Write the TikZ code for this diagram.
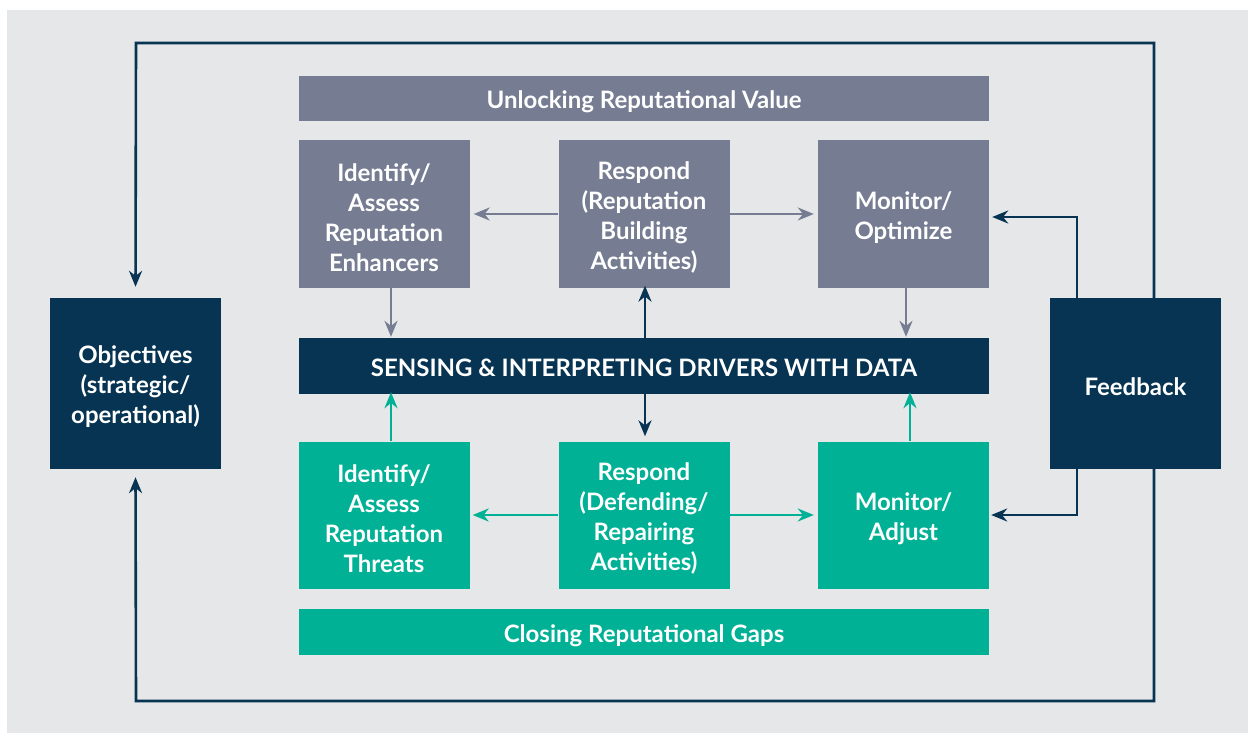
\documentclass[tikz,border=0pt]{standalone}
\usepackage{fontspec}
\setmainfont{Lato}
\usetikzlibrary{arrows.meta}

\definecolor{bgcol}{HTML}{E6E7E9}
\definecolor{slate}{HTML}{767D92}
\definecolor{navy}{HTML}{063452}
\definecolor{teal}{HTML}{00B195}

\tikzset{
    box/.style={minimum width=171pt, minimum height=147pt, inner sep=0pt, text width=171pt, align=center,
        text=white, font=\bfseries\fontsize{24}{30}\selectfont,
        execute at begin node={\rule{0pt}{25pt}}},
    bar/.style={minimum width=690pt, inner sep=0pt, text=white, text height=21pt, text depth=0pt,
        font=\bfseries\fontsize{24}{28}\selectfont},
    side/.style={box, fill=navy, minimum height=171pt},
    arr/.style={line width=2.6pt, -{Stealth[length=16pt,width=13pt]}},
}

\begin{document}
\begin{tikzpicture}[x=1pt, y=-1pt]
    \useasboundingbox (0,0) rectangle (1248,733);
    \fill[bgcol] (7,10) rectangle (1248,733);

    % Bars
    \node[bar, fill=slate, minimum height=45pt] (unlock) at (644,98.5) {Unlocking Reputational Value};
    \node[bar, fill=navy, minimum height=56pt] (sense) at (644,366) {SENSING \& INTERPRETING DRIVERS WITH DATA};
    \node[bar, fill=teal, minimum height=46pt] (close) at (644,632) {Closing Reputational Gaps};

    % Upper row
    \node[box, fill=slate] (enh) at (384,214) {Identify/\\Assess\\Reputation\\Enhancers};
    \node[box, fill=slate] (resB) at (644,214) {Respond\\(Reputation\\Building\\Activities)};
    \node[box, fill=slate] (monO) at (903.5,214) {Monitor/\\Optimize};

    % Lower row
    \node[box, fill=teal] (thr) at (384,515) {Identify/\\Assess\\Reputation\\Threats};
    \node[box, fill=teal] (resD) at (644,515) {Respond\\(Defending/\\Repairing\\Activities)};
    \node[box, fill=teal] (monA) at (903.5,515) {Monitor/\\Adjust};

    % Objectives and feedback
    \node[side] (obj) at (135.5,383.5) {Objectives\\(strategic/\\operational)};
    \node[side] (fb) at (1135.5,383.5) {Feedback};

    % Upper arrows
    \draw[arr, slate, shorten >=4pt] (resB.west) -- (enh.east);
    \draw[arr, slate, shorten >=4pt] (resB.east) -- (monO.west);
    \draw[arr, slate, shorten >=1pt] ([xshift=7pt]enh.south) -- ([xshift=7pt]enh.south |- sense.north);
    \draw[arr, slate, shorten >=1pt] ([xshift=2.5pt]monO.south) -- ([xshift=2.5pt]monO.south |- sense.north);

    % Sensing arrows
    \draw[arr, navy, shorten >=-2pt] ([xshift=1pt]sense.north) -- ([xshift=1pt]resB.south);
    \draw[arr, navy, shorten >=5pt] ([xshift=1pt]sense.south) -- ([xshift=1pt]resD.north);

    % Lower arrows
    \draw[arr, teal, shorten >=3pt] (resD.west) -- (thr.east);
    \draw[arr, teal, shorten >=4pt] (resD.east) -- (monA.west);
    \draw[arr, teal, shorten >=-2pt] ([xshift=7pt]thr.north) -- ([xshift=7pt]thr.north |- sense.south);
    \draw[arr, teal, shorten >=-2pt] ([xshift=6.5pt]monA.north) -- ([xshift=6.5pt]monA.north |- sense.south);

    % Feedback arrows
    \draw[arr, navy, shorten >=3pt] ([xshift=-58.5pt]fb.north) |- ([yshift=-3pt]monO.east);
    \draw[arr, navy, shorten >=2pt] ([xshift=-58.5pt]fb.south) |- (monA.east);

    % Outer loop
    \coordinate (loopT) at (136,43);
    \coordinate (loopB) at (136,701);
    \draw[arr, navy, shorten >=11pt] ([xshift=18.5pt]fb.north) |- (loopT) -- (obj.north);
    \draw[arr, navy, shorten >=8pt] ([xshift=18.5pt]fb.south) |- (loopB) -- (obj.south);
\end{tikzpicture}
\end{document}
